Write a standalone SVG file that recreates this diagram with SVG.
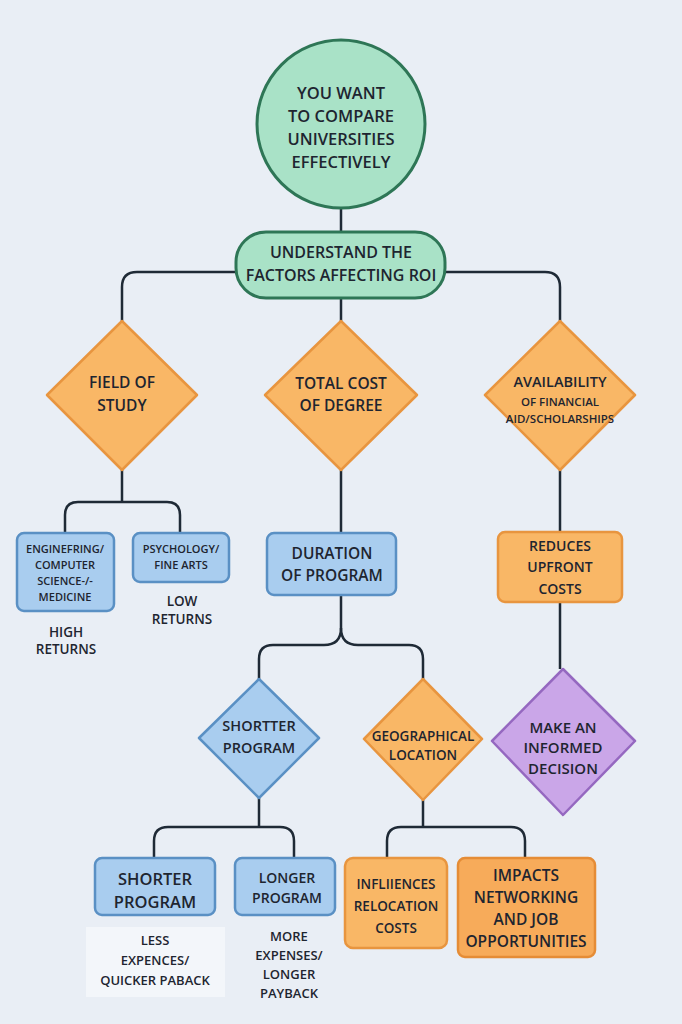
<svg xmlns="http://www.w3.org/2000/svg" width="682" height="1024" viewBox="0 0 682 1024">
<style>
  .t { font-family: "Open Sans", "Liberation Sans", sans-serif; font-weight: 600; fill: #1e2530; text-anchor: middle; }
  .green { fill: #a9e2c7; stroke: #2e7656; stroke-width: 3; }
  .orange { fill: #f9b766; stroke: #e8953f; stroke-width: 2.5; stroke-linejoin: round; }
  .orange2 { fill: #f7ab5a; stroke: #e58c36; stroke-width: 2.5; }
  .blue { fill: #a9cdef; stroke: #5a90c4; stroke-width: 2.5; stroke-linejoin: round; }
  .purple { fill: #caa6e8; stroke: #9568c0; stroke-width: 2.5; stroke-linejoin: round; }
  .conn { fill: none; stroke: #1f2a36; stroke-width: 2.5; }
</style>
<rect width="682" height="1024" fill="#e9eef5"/>
<g id="connectors" class="conn">
  <path d="M341 208 V232"/>
  <path d="M236 272 H137 Q122 272 122 287 V321"/>
  <path d="M445 272 H545 Q560 272 560 287 V321"/>
  <path d="M341 298 V321"/>
  <path d="M122 470 V502"/>
  <path d="M65 533 V515 Q65 502 78 502 H167 Q180 502 180 515 V533"/>
  <path d="M341 470 V533"/>
  <path d="M341 595 V628 Q341 645 324 645 H273 Q259 645 259 659 V679"/>
  <path d="M341 628 Q341 645 358 645 H409 Q423 645 423 659 V679"/>
  <path d="M560 470 V532"/>
  <path d="M560 602 V669"/>
  <path d="M259 798 V827"/>
  <path d="M154 859 V841 Q154 827 168 827 H280 Q294 827 294 841 V859"/>
  <path d="M423 800 V827"/>
  <path d="M387 858 V841 Q387 827 401 827 H511 Q525 827 525 841 V858"/>
</g>
<g id="start">
  <circle class="green" cx="341" cy="124" r="84"/>
  <text class="t" font-size="16.5" x="341" y="99">YOU WANT</text>
  <text class="t" font-size="16.5" x="341" y="122">TO COMPARE</text>
  <text class="t" font-size="16.5" x="341" y="145">UNIVERSITIES</text>
  <text class="t" font-size="16.5" x="341" y="168">EFFECTIVELY</text>
</g>
<g id="understand">
  <rect class="green" x="236" y="232" width="209" height="66" rx="30"/>
  <text class="t" font-size="16" x="341" y="258">UNDERSTAND THE</text>
  <text class="t" font-size="16" x="341" y="281">FACTORS AFFECTING ROI</text>
</g>
<g id="field">
  <polygon class="orange" points="122,321 197,395 122,470 47,395"/>
  <text class="t" font-size="15.5" x="122" y="388">FIELD OF</text>
  <text class="t" font-size="15.5" x="122" y="411">STUDY</text>
</g>
<g id="totalcost">
  <polygon class="orange" points="341,321 417,395 341,470 265,395"/>
  <text class="t" font-size="15.5" x="341" y="389">TOTAL COST</text>
  <text class="t" font-size="15.5" x="341" y="411">OF DEGREE</text>
</g>
<g id="availability">
  <polygon class="orange" points="560,321 635,395 560,470 485,395"/>
  <text class="t" font-size="14.5" x="560" y="387">AVAILABILITY</text>
  <text class="t" font-size="11.5" x="560" y="406">OF FINANCIAL</text>
  <text class="t" font-size="11.5" x="560" y="423">AID/SCHOLARSHIPS</text>
</g>
<g id="engineering">
  <rect class="blue" x="17" y="533" width="97" height="78" rx="7"/>
  <text class="t" font-size="11" x="65" y="553">ENGINEFRING/</text>
  <text class="t" font-size="11" x="65" y="569">COMPUTER</text>
  <text class="t" font-size="11" x="65" y="585">SCIENCE-/-</text>
  <text class="t" font-size="11" x="65" y="601">MEDICINE</text>
</g>
<g id="high">
  <text class="t" font-size="13.5" x="66" y="637">HIGH</text>
  <text class="t" font-size="13.5" x="66" y="654">RETURNS</text>
</g>
<g id="psychology">
  <rect class="blue" x="133" y="533" width="96" height="49" rx="7"/>
  <text class="t" font-size="11" x="181" y="553">PSYCHOLOGY/</text>
  <text class="t" font-size="11" x="181" y="569">FINE ARTS</text>
</g>
<g id="low">
  <text class="t" font-size="13.5" x="182" y="606">LOW</text>
  <text class="t" font-size="13.5" x="182" y="624">RETURNS</text>
</g>
<g id="duration">
  <rect class="blue" x="267" y="533" width="129" height="62" rx="7"/>
  <text class="t" font-size="15.5" x="332" y="559">DURATION</text>
  <text class="t" font-size="15.5" x="332" y="581">OF PROGRAM</text>
</g>
<g id="reduces">
  <rect class="orange" x="498" y="532" width="124" height="70" rx="7"/>
  <text class="t" font-size="14" x="560" y="551">REDUCES</text>
  <text class="t" font-size="14" x="560" y="572">UPFRONT</text>
  <text class="t" font-size="14" x="560" y="594">COSTS</text>
</g>
<g id="shorterdiamond">
  <polygon class="blue" points="259,679 319,738 259,798 199,738"/>
  <text class="t" font-size="14.5" x="259" y="731">SHORTTER</text>
  <text class="t" font-size="14.5" x="259" y="753">PROGRAM</text>
</g>
<g id="geo">
  <polygon class="orange" points="423,679 482,739 423,800 364,739"/>
  <text class="t" font-size="13.5" x="423" y="741">GEOGRAPHICAL</text>
  <text class="t" font-size="13.5" x="423" y="760">LOCATION</text>
</g>
<g id="decision">
  <polygon class="purple" points="563,669 635,741 563,815 492,741"/>
  <text class="t" font-size="15" x="563" y="733">MAKE AN</text>
  <text class="t" font-size="15" x="563" y="753">INFORMED</text>
  <text class="t" font-size="15" x="563" y="774">DECISION</text>
</g>
<g id="shorterbox">
  <rect class="blue" x="95" y="858" width="120" height="57" rx="7"/>
  <text class="t" font-size="16.5" x="155" y="885">SHORTER</text>
  <text class="t" font-size="16.5" x="155" y="908">PROGRAM</text>
</g>
<g id="less">
  <rect x="86" y="927" width="139" height="70" fill="#f3f6fa"/>
  <text class="t" font-size="13" x="155" y="945">LESS</text>
  <text class="t" font-size="13" x="155" y="965">EXPENCES/</text>
  <text class="t" font-size="13" x="155" y="985">QUICKER PABACK</text>
</g>
<g id="longerbox">
  <rect class="blue" x="235" y="858" width="100" height="57" rx="7"/>
  <text class="t" font-size="14" x="287" y="883">LONGER</text>
  <text class="t" font-size="14" x="287" y="903">PROGRAM</text>
</g>
<g id="more">
  <text class="t" font-size="13" x="289" y="941">MORE</text>
  <text class="t" font-size="13" x="289" y="960">EXPENSES/</text>
  <text class="t" font-size="13" x="289" y="979">LONGER</text>
  <text class="t" font-size="13" x="289" y="998">PAYBACK</text>
</g>
<g id="influences">
  <rect class="orange" x="345" y="858" width="102" height="90" rx="8"/>
  <text class="t" font-size="13.5" x="396" y="889" fill="#2f3320">INFLIIENCES</text>
  <text class="t" font-size="13.5" x="396" y="911">RELOCATION</text>
  <text class="t" font-size="13.5" x="396" y="933">COSTS</text>
</g>
<g id="impacts">
  <rect class="orange2" x="458" y="858" width="137" height="99" rx="7"/>
  <text class="t" font-size="15.5" x="526" y="881">IMPACTS</text>
  <text class="t" font-size="15.5" x="526" y="903">NETWORKING</text>
  <text class="t" font-size="15.5" x="526" y="925">AND JOB</text>
  <text class="t" font-size="15.5" x="526" y="947">OPPORTUNITIES</text>
</g>
</svg>
